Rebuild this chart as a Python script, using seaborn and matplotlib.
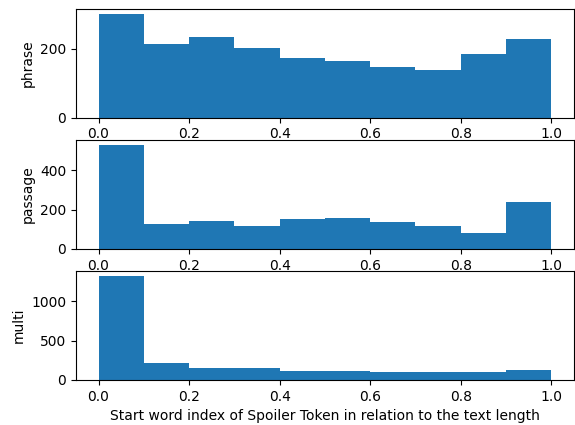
import numpy as np
import matplotlib
matplotlib.use('Agg')
import matplotlib.pyplot as plt
import seaborn as sns

# bin edges of the histogram (10 equal bins on [0, 1])
bin_edges = [0.0, 0.1, 0.2, 0.3, 0.4, 0.5, 0.6, 0.7, 0.8, 0.9, 1.0]
bin_centers = [0.05, 0.15, 0.25, 0.35, 0.45, 0.55, 0.65, 0.75, 0.85, 0.95]

# counts per bin
phrase_counts = [302, 215, 235, 203, 174, 165, 148, 139, 186, 229]
passage_counts = [530, 128, 144, 115, 150, 156, 135, 115, 79, 241]
multi_counts = [1325, 219, 156, 158, 118, 118, 105, 105, 105, 131]

spoiler_types = ['phrase', 'passage', 'multi']
all_counts = [phrase_counts, passage_counts, multi_counts]

fig, axes = plt.subplots(3, 1, figsize=(5.75, 4.25), dpi=100)
fig.subplots_adjust(left=0.132, right=0.998, top=0.980, bottom=0.106, hspace=0.2)

for ax, name, counts in zip(axes, spoiler_types, all_counts):
    sns.histplot(x=bin_centers, weights=counts, bins=bin_edges, ax=ax,
                 color='#1f77b4', alpha=1, linewidth=0)
    ax.set_ylabel(name)
    ax.set_xlabel('')
    ax.set_xticks([0.0, 0.2, 0.4, 0.6, 0.8, 1.0])

axes[-1].set_xlabel('Start word index of Spoiler Token in relation to the text length')

plt.savefig('out.png')
